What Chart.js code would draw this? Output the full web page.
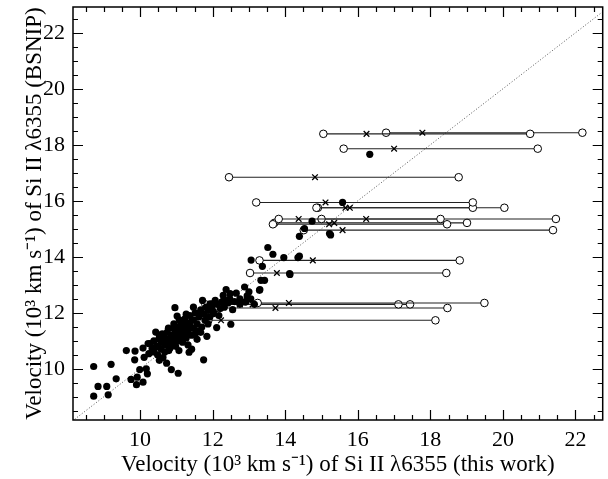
<!DOCTYPE html>
<html lang="en">
<head>
<meta charset="UTF-8">
<title>Si II velocity: this work vs BSNIP</title>
<script src="https://cdn.jsdelivr.net/npm/chart.js"></script>
<style>
    body {
        margin: 0;
        padding: 0;
        background: #fff;
        overflow: hidden;
    }
    canvas {
        display: block;
    }
</style>
</head>
<body>
<canvas id="velChart" width="608" height="479"></canvas>

<script>
    // filled dots: single velocity in both works
    var dotX = [8.72, 9.2, 8.84, 8.72, 9.08, 9.12, 9.34, 9.75, 9.92, 9.9, 10.08, 9.99, 10.2, 10.17, 9.62, 9.86, 9.85, 10.08, 10.11, 10.22,
        10.24, 10.33, 10.43, 10.52, 10.43, 10.61, 10.66, 10.75, 10.84, 10.79, 10.86, 11.05, 10.96, 11.02, 10.93, 11.07, 11.0, 11.07, 11.15, 11.24,
        11.2, 11.33, 11.35, 11.43, 11.52, 11.61, 11.7, 11.75, 11.72, 11.84, 11.79, 11.88, 11.93, 12.07, 12.11, 12.02, 12.21, 12.29, 12.37, 12.48,
        12.5, 12.55, 12.88, 12.9, 13.06, 13.3, 13.33, 13.37, 13.52, 13.66, 13.96, 14.13, 14.35, 14.39, 14.39, 14.53, 14.74, 15.22, 15.25, 15.58,
        16.33, 14.12, 13.43, 13.29, 12.25, 12.34, 12.44, 12.92,
        10.28, 10.38, 10.38, 10.48, 10.48, 10.53, 10.58, 10.58, 10.63, 10.68, 10.68, 10.73, 10.78, 10.78, 10.83, 10.88, 10.88, 10.93, 10.98, 10.98,
        11.03, 11.08, 11.08, 11.12, 11.17, 11.17, 11.22, 11.27, 11.27, 11.32, 11.37, 11.37, 11.42, 11.47, 11.47, 11.52, 11.57, 11.57, 11.62, 11.67,
        11.67, 11.77, 11.82, 11.87, 11.92, 11.97, 12.02, 12.12, 12.17, 12.27, 12.32, 12.42, 12.47, 12.6, 12.65, 12.75, 12.75, 12.95, 13.05, 13.15,
        13.0, 10.53, 10.73, 10.58, 10.93, 11.08, 11.27, 11.47, 11.32, 11.57, 11.42];
    var dotY = [10.08, 10.16, 9.37, 9.02, 9.37, 9.07, 9.64, 9.62, 9.7, 9.43, 9.52, 9.97, 9.82, 10.0, 10.65, 10.63, 10.32, 10.74, 10.41, 10.9,
        10.54, 10.72, 11.31, 11.07, 10.77, 11.25, 10.9, 11.31, 11.13, 10.65, 9.97, 9.84, 12.18, 11.88, 11.43, 11.49, 11.01, 10.65, 11.19, 11.79,
        11.37, 11.49, 10.59, 11.73, 11.25, 11.97, 11.49, 10.32, 12.44, 11.16, 11.73, 12.08, 12.32, 12.44, 11.47, 11.97, 12.15, 12.62, 12.83, 12.68,
        11.59, 12.11, 12.92, 12.38, 13.88, 12.83, 13.16, 13.66, 14.33, 14.09, 13.97, 13.37, 13.97, 14.02, 14.73, 15.01, 15.27, 14.83, 14.78, 15.94,
        17.66, 13.4, 13.16, 12.8, 12.38, 12.44, 12.38, 12.41,
        10.9, 10.6, 11.0, 10.8, 10.5, 11.2, 10.7, 11.0, 10.4, 11.1, 10.6, 10.85, 11.0, 11.45, 10.75, 11.2, 10.9, 11.05, 11.3, 10.8,
        11.15, 11.0, 11.35, 11.6, 10.95, 11.25, 11.5, 11.1, 11.65, 11.3, 11.55, 11.9, 11.2, 11.45, 11.75, 12.0, 11.35, 11.6, 11.85, 12.1,
        11.3, 11.95, 12.2, 11.6, 11.85, 12.25, 12.05, 12.3, 11.9, 12.4, 12.2, 12.35, 12.5, 12.4, 12.7, 12.5, 12.3, 12.6, 12.5, 12.3,
        12.75, 10.3, 10.2, 10.95, 11.6, 11.75, 11.95, 12.2, 10.85, 11.05, 10.7];

    // two-component objects: open circles joined by a line, cross for the adopted value
    var segY     = [18.39, 18.43, 17.86, 16.84, 15.94, 15.75, 15.75, 15.35, 15.35, 15.16, 15.21, 14.95, 13.87, 13.42, 12.35, 12.30, 12.30, 12.17, 11.73];
    var segLeft  = [15.05, 16.78, 15.61, 12.45, 13.2, 14.86, 14.9, 13.82, 15.0, 13.66, 13.7, 14.51, 13.29, 13.03, 13.24, 11.8, 12.0, 12.1, 11.88];
    var segRight = [20.75, 22.19, 20.96, 18.78, 19.17, 19.17, 20.04, 18.28, 21.46, 18.46, 19.01, 21.38, 18.81, 18.44, 19.49, 17.12, 17.44, 18.47, 18.14];
    var segMark  = [16.24, 17.78, 17.0, 14.82, 15.11, 15.66, 15.78, 14.37, 16.23, 15.21, 15.35, 15.58, 14.76, 13.77, 14.1, 12.75, 13.1, 13.73, 12.23];

    var tickValues = [10, 12, 14, 16, 18, 20, 22];
    var diagonal = [8, 23];

    var serif = 'Liberation Serif, Times New Roman, serif';

    var datasets = [];
    datasets.push({
        data: dotX.map(function(x, i) { return {x: x, y: dotY[i]}; }),
        pointRadius: 3.6,
        pointBackgroundColor: '#000',
        pointBorderWidth: 0,
        order: 0
    });
    datasets.push({
        data: segMark.map(function(x, i) { return {x: x, y: segY[i]}; }),
        pointStyle: 'crossRot',
        pointRadius: 4,
        pointBorderColor: '#000',
        pointBorderWidth: 1.3,
        order: 1
    });
    for (var i = 0; i < segY.length; i++) {
        datasets.push({
            data: [{x: segLeft[i], y: segY[i]}, {x: segRight[i], y: segY[i]}],
            showLine: true,
            borderColor: '#222',
            borderWidth: 1.1,
            pointRadius: 3.8,
            pointBackgroundColor: '#fff',
            pointBorderColor: '#000',
            pointBorderWidth: 1,
            order: 2
        });
    }
    datasets.push({
        data: diagonal.map(function(v) { return {x: v, y: v}; }),
        showLine: true,
        borderColor: '#555',
        borderWidth: 1,
        borderDash: [1, 2],
        pointRadius: 0,
        order: 3
    });

    // IDL-style box with inward ticks on all four sides
    var frameTicks = {
        id: 'frameTicks',
        afterDraw: function(chart) {
            var ctx = chart.ctx, a = chart.chartArea;
            var xs = chart.scales.x, ys = chart.scales.y;
            ctx.save();
            ctx.strokeStyle = '#000';
            ctx.lineWidth = 1.5;
            ctx.strokeRect(a.left, a.top, a.right - a.left, a.bottom - a.top);
            ctx.lineWidth = 1.2;
            ctx.beginPath();
            for (var v = 8.5; v <= 22.5; v += 0.5) {
                var len = (v % 2 === 0) ? 10 : 5;
                var px = Math.round(xs.getPixelForValue(v)) + 0.5;
                ctx.moveTo(px, a.bottom); ctx.lineTo(px, a.bottom - len);
                ctx.moveTo(px, a.top); ctx.lineTo(px, a.top + len);
                var py = Math.round(ys.getPixelForValue(v)) + 0.5;
                ctx.moveTo(a.left, py); ctx.lineTo(a.left + len, py);
                ctx.moveTo(a.right, py); ctx.lineTo(a.right - len, py);
            }
            ctx.stroke();
            ctx.restore();
        }
    };

    new Chart(document.getElementById('velChart').getContext('2d'), {
        type: 'scatter',
        data: { datasets: datasets },
        options: {
            responsive: false,
            animation: false,
            layout: { padding: { top: 7, right: 1, left: 0, bottom: 0 } },
            plugins: {
                legend: { display: false },
                tooltip: { enabled: false }
            },
            scales: {
                x: {
                    type: 'linear',
                    min: 8.15,
                    max: 22.75,
                    grid: { display: false, drawTicks: false },
                    border: { display: false },
                    afterBuildTicks: function(s) { s.ticks = tickValues.map(function(v) { return {value: v}; }); },
                    afterFit: function(s) { s.height = 59; s.paddingLeft = 0; s.paddingRight = 0; },
                    ticks: { font: { family: serif, size: 22 }, color: '#000', padding: 7, maxRotation: 0, autoSkip: false },
                    title: {
                        display: true,
                        text: 'Velocity (10\u00b3 km s\u207b\u00b9) of Si II \u03bb6355 (this work)',
                        font: { family: serif, size: 23 },
                        color: '#000',
                        padding: { top: 0, bottom: 0 }
                    }
                },
                y: {
                    type: 'linear',
                    min: 8.17,
                    max: 22.92,
                    grid: { display: false, drawTicks: false },
                    border: { display: false },
                    afterBuildTicks: function(s) { s.ticks = tickValues.map(function(v) { return {value: v}; }); },
                    afterFit: function(s) { s.width = 73; s.paddingTop = 0; s.paddingBottom = 0; },
                    ticks: { font: { family: serif, size: 22 }, color: '#000', padding: 8, autoSkip: false },
                    title: {
                        display: true,
                        text: 'Velocity (10\u00b3 km s\u207b\u00b9) of Si II \u03bb6355 (BSNIP)',
                        font: { family: serif, size: 23 },
                        color: '#000',
                        padding: { top: 21, bottom: 0 }
                    }
                }
            }
        },
        plugins: [frameTicks]
    });
</script>
</body>
</html>
